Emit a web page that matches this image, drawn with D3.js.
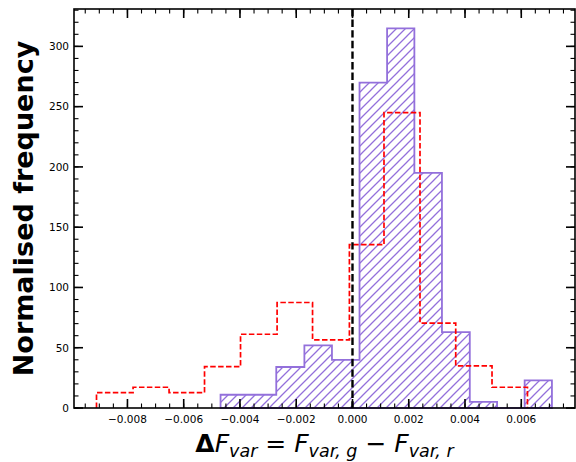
<!DOCTYPE html>
<html>
<head>
<meta charset="utf-8">
<script src="https://cdn.jsdelivr.net/npm/d3@7"></script>
<style>
  body { margin: 0; background: #fff; }
  text { font-family: "DejaVu Sans", sans-serif; }
</style>
</head>
<body>
<div id="chart"></div>
<script>
// bin edges and heights
const gEdges = [-0.00469, -0.00370, -0.00271, -0.00171, -0.00073, 0.00025, 0.00123, 0.00220, 0.00318, 0.00417, 0.00514, 0.00612, 0.00709];
const gValues = [11, 11, 34, 52, 40, 270, 315, 195, 63, 5, 0, 23];

const rEdges = [-0.00910, -0.00780, -0.00652, -0.00526, -0.00398, -0.00268, -0.00142, -0.00011, 0.00112, 0.00240, 0.00367, 0.00496, 0.00622];
const rValues = [12.7, 17.2, 12.7, 34.3, 61.2, 87.5, 56.5, 135.5, 245, 70.4, 35, 17.2];

const xTicks = [-0.008, -0.006, -0.004, -0.002, 0.000, 0.002, 0.004, 0.006];
const yTicks = [0, 50, 100, 150, 200, 250, 300];

const width = 576, height = 462;
const margin = { top: 9, right: 1, bottom: 54, left: 74 };
const w = width - margin.left - margin.right;
const h = height - margin.top - margin.bottom;

const svg = d3.select("#chart").append("svg")
  .attr("width", width)
  .attr("height", height);

const defs = svg.append("defs");
const hatch = defs.append("pattern")
  .attr("id", "hatch")
  .attr("patternUnits", "userSpaceOnUse")
  .attr("width", 9)
  .attr("height", 9);
hatch.append("path")
  .attr("d", "M-1,1 l2,-2 M0,9 l9,-9 M8,10 l2,-2")
  .attr("stroke", "#9370db")
  .attr("stroke-width", 1.3);

const chart = svg.append("g")
  .attr("transform", `translate(${margin.left}, ${margin.top})`);

const x = d3.scaleLinear().domain([-0.0099, 0.00791]).range([0, w]);
const y = d3.scaleLinear().domain([0, 331]).range([h, 0]);

// step outline from edges + values
function stepPoints(edges, vals) {
  const pts = [[edges[0], 0]];
  vals.forEach((v, i) => {
    pts.push([edges[i], v]);
    pts.push([edges[i + 1], v]);
  });
  pts.push([edges[edges.length - 1], 0]);
  return pts;
}

const line = d3.line().x(d => x(d[0])).y(d => y(d[1]));

// purple hatched stepfilled histogram
chart.append("path")
  .attr("d", line(stepPoints(gEdges, gValues)) + "Z")
  .attr("fill", "url(#hatch)")
  .attr("stroke", "#9370db")
  .attr("stroke-width", 1.8);

// red dashed step histogram
chart.append("path")
  .attr("d", line(stepPoints(rEdges, rValues)))
  .attr("fill", "none")
  .attr("stroke", "#ff0000")
  .attr("stroke-width", 1.7)
  .attr("stroke-dasharray", "5.5,2.4");

// vertical dashed line at zero
chart.append("line")
  .attr("x1", x(0)).attr("x2", x(0))
  .attr("y1", 0).attr("y2", h)
  .attr("stroke", "#000")
  .attr("stroke-width", 2.4)
  .attr("stroke-dasharray", "7.4,3.2");

// ticks, all inward
const xMinor = d3.range(-0.0095, 0.0080, 0.0005);
const yMinor = d3.range(0, 331, 10);

function ticks(vals, len, sw) {
  vals.forEach(v => {
    chart.append("line").attr("x1", x(v)).attr("x2", x(v)).attr("y1", h).attr("y2", h - len)
      .attr("stroke", "#000").attr("stroke-width", sw);
    chart.append("line").attr("x1", x(v)).attr("x2", x(v)).attr("y1", 0).attr("y2", len)
      .attr("stroke", "#000").attr("stroke-width", sw);
  });
}
function yticks(vals, len, sw) {
  vals.forEach(v => {
    chart.append("line").attr("x1", 0).attr("x2", len).attr("y1", y(v)).attr("y2", y(v))
      .attr("stroke", "#000").attr("stroke-width", sw);
    chart.append("line").attr("x1", w).attr("x2", w - len).attr("y1", y(v)).attr("y2", y(v))
      .attr("stroke", "#000").attr("stroke-width", sw);
  });
}
ticks(xMinor, 4.5, 1.1);
ticks(xTicks, 9, 1.6);
yticks(yMinor, 4.5, 1.1);
yticks(yTicks, 9, 1.6);

// frame
chart.append("rect")
  .attr("width", w).attr("height", h)
  .attr("fill", "none")
  .attr("stroke", "#000")
  .attr("stroke-width", 1.6);

// tick labels
chart.selectAll(".xlab").data(xTicks).enter().append("text")
  .attr("x", d => x(d))
  .attr("y", h + 15)
  .attr("text-anchor", "middle")
  .attr("font-size", 10.5)
  .text(d => d3.format(".3f")(d));

chart.selectAll(".ylab").data(yTicks).enter().append("text")
  .attr("x", -5)
  .attr("y", d => y(d) + 3.8)
  .attr("text-anchor", "end")
  .attr("font-size", 10.5)
  .text(d => d);

// y axis label
svg.append("text")
  .attr("transform", `translate(33, ${margin.top + h / 2}) rotate(-90)`)
  .attr("text-anchor", "middle")
  .attr("font-size", 27)
  .attr("font-weight", "bold")
  .text("Normalised frequency");

// x axis label (math text)
const xl = svg.append("text")
  .attr("x", margin.left + w / 2)
  .attr("y", 452)
  .attr("text-anchor", "middle")
  .attr("font-size", 25);
xl.append("tspan").attr("font-weight", "bold").text("Δ");
xl.append("tspan").attr("font-style", "italic").text("F");
xl.append("tspan").attr("font-style", "italic").attr("font-size", 17.5).attr("dy", 5).text("var");
xl.append("tspan").attr("dy", -5).text(" = ");
xl.append("tspan").attr("font-style", "italic").text("F");
xl.append("tspan").attr("font-style", "italic").attr("font-size", 17.5).attr("dy", 5).text("var, g");
xl.append("tspan").attr("dy", -5).text(" − ");
xl.append("tspan").attr("font-style", "italic").text("F");
xl.append("tspan").attr("font-style", "italic").attr("font-size", 17.5).attr("dy", 5).text("var, r");
</script>
</body>
</html>
